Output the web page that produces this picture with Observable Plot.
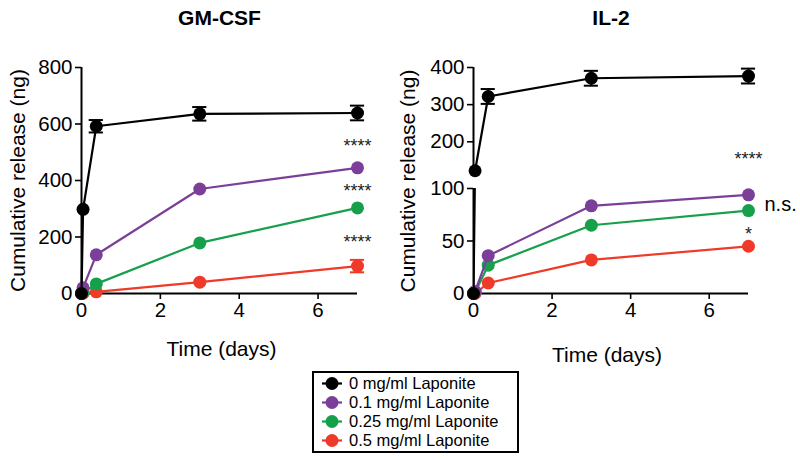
<!DOCTYPE html>
<html><head><meta charset="utf-8">
<script src="https://cdn.jsdelivr.net/npm/d3@7"></script>
<script src="https://cdn.jsdelivr.net/npm/@observablehq/plot@0.6"></script>
<style>
body{margin:0;background:#fff;font-family:"Liberation Sans",Arial,Helvetica,sans-serif;}
#wrap{position:relative;width:800px;height:460px;overflow:hidden;}
.panel{position:absolute;}
#legend{position:absolute;left:312px;top:371px;width:203px;border:2px solid #000;box-sizing:content-box;padding:1px 0 1px 0;}
#legend .row{display:flex;align-items:center;height:19px;}
#legend .row span{font-size:16.5px;line-height:19px;color:#000;margin-left:6px;white-space:nowrap;}
#legend .row svg{display:block;margin-left:7px;}
</style></head><body><div id="wrap"></div>
<script>
// ---- data ----
const days = [0, 0.04, 0.375, 3, 7];
const seriesNames = ["0 mg/ml Laponite", "0.1 mg/ml Laponite", "0.25 mg/ml Laponite", "0.5 mg/ml Laponite"];
const seriesColors = ["#000000", "#7b3f99", "#17a04c", "#ef3a29"];

const gmcsf0   = [0, 298, 592, 636, 639];
const gmcsf01  = [0, 20, 137, 370, 445];
const gmcsf025 = [0, 3, 34, 179, 303];
const gmcsf05  = [0, 1, 6, 40, 97];
const gmcsf0Err  = [0, 0, 22, 24, 26];
const gmcsf01Err = [0, 0, 0, 0, 0];
const gmcsf025Err = [0, 0, 0, 0, 0];
const gmcsf05Err = [0, 0, 0, 0, 22];

const il2_0   = [0, 122, 322, 371, 377];
const il2_01  = [0, 2, 36, 83.5, 94];
const il2_025 = [0, 1, 27, 65, 79];
const il2_05  = [0, 0, 10, 32, 45];
const il2_0Err  = [0, 0, 20, 20, 20];
const il2_01Err = [0, 0, 0, 0, 0];
const il2_025Err = [0, 0, 0, 0, 0];
const il2_05Err = [0, 0, 0, 0, 0];

const panelTitles = ["GM-CSF", "IL-2"];
const yLabel = "Cumulative release (ng)";
const xLabel = "Time (days)";
const xTicks = [0, 2, 4, 6];
const gmcsfTicks = [0, 200, 400, 600, 800];
const il2UpperTicks = [200, 300, 400];
const il2LowerTicks = [0, 50, 100];

// significance labels at day 7
const gmcsfNoteLabels = ["****", "****", "****"];
const gmcsfNoteValues = [538, 379, 198];
const il2UpperNoteLabels = ["****"];
const il2UpperNoteValues = [167];
const il2LowerNoteLabels = ["n.s.", "*"];
const il2LowerNoteValues = [85, 61.6];

// ---- helpers ----
const FONT = '"Liberation Sans", Arial, Helvetica, sans-serif';
function rows(valuesList, errList) {
  return valuesList.map((vals, i) => days.map((t, j) => ({t, v: vals[j], e: errList[i][j], s: seriesNames[i]})));
}
const gm = rows([gmcsf0, gmcsf01, gmcsf025, gmcsf05], [gmcsf0Err, gmcsf01Err, gmcsf025Err, gmcsf05Err]);
const il = rows([il2_0, il2_01, il2_025, il2_05], [il2_0Err, il2_01Err, il2_025Err, il2_05Err]);
const color = {domain: seriesNames, range: seriesColors};
const CAP = 0.18; // half cap width in days

function seriesMarks(series, {clipLines = false, dotFilter = () => true} = {}) {
  const marks = [];
  for (let i = series.length - 1; i >= 0; i--) {
    const d = series[i];
    const err = d.filter(r => r.e > 0 && dotFilter(r));
    marks.push(Plot.ruleX(err, {x: "t", y1: r => r.v - r.e, y2: r => r.v + r.e, stroke: "s", strokeWidth: 2}));
    marks.push(Plot.ruleY(err, {y: r => r.v + r.e, x1: r => r.t - CAP, x2: r => r.t + CAP, stroke: "s", strokeWidth: 2}));
    marks.push(Plot.ruleY(err, {y: r => r.v - r.e, x1: r => r.t - CAP, x2: r => r.t + CAP, stroke: "s", strokeWidth: 2}));
    marks.push(Plot.line(d, {x: "t", y: "v", stroke: "s", strokeWidth: 2.2, clip: clipLines}));
    marks.push(Plot.dot(d.filter(dotFilter), {x: "t", y: "v", fill: "s", r: 6.5}));
  }
  return marks;
}
function notes(labels, values, extra = {}) {
  return Plot.text(labels.map((l, i) => ({t: 7, v: values[i], l})), {x: "t", y: "v", text: "l", fontSize: 18, fill: "#222", ...extra});
}
const baseStyle = {fontFamily: FONT, fontSize: "20.5px", overflow: "visible", background: "transparent", color: "#000"};
const axisOpts = {tickSize: 6, tickPadding: 3, strokeWidth: 1.6, label: null, fontSize: 20.5};

const wrap = document.getElementById("wrap");
function place(el, left, top) {
  const d = document.createElement("div");
  d.className = "panel"; d.style.left = left + "px"; d.style.top = top + "px";
  d.appendChild(el); wrap.appendChild(d);
}

// ---- GM-CSF ----
const left = Plot.plot({
  width: 400, height: 370, marginLeft: 81, marginRight: 43, marginTop: 67, marginBottom: 77,
  style: baseStyle,
  x: {domain: [0, 7]}, y: {domain: [0, 800]}, color,
  marks: [
    Plot.axisY(gmcsfTicks, axisOpts),
    Plot.axisX(xTicks, axisOpts),
    Plot.ruleX([0], {strokeWidth: 2}),
    Plot.ruleY([0], {strokeWidth: 2}),
    ...seriesMarks(gm),
    notes(gmcsfNoteLabels, gmcsfNoteValues, {dy: 5}),
    Plot.text([panelTitles[0]], {text: d => d, frameAnchor: "top", lineAnchor: "middle", dy: -49, fontSize: 21, fontWeight: "bold"}),
    Plot.text([xLabel], {text: d => d, frameAnchor: "bottom", lineAnchor: "middle", dx: 2, dy: 56, fontSize: 21}),
    Plot.text([yLabel], {text: d => d, frameAnchor: "left", textAnchor: "middle", dx: -63, rotate: -90, fontSize: 21})
  ]
});
place(left, 0, 0);

// ---- IL-2 upper (broken axis, 120–400) ----
const upper = Plot.plot({
  width: 400, height: 180, marginLeft: 73, marginRight: 52, marginTop: 67, marginBottom: 9,
  style: baseStyle,
  x: {domain: [0, 7], axis: null}, y: {domain: [120, 400]}, color,
  marks: [
    Plot.axisY(il2UpperTicks, axisOpts),
    Plot.ruleX([0], {strokeWidth: 2}),
    ...seriesMarks([il[0]], {clipLines: true, dotFilter: r => r.v >= 120}),
    notes(il2UpperNoteLabels, il2UpperNoteValues, {dy: 5}),
    Plot.text([panelTitles[1]], {text: d => d, frameAnchor: "top", lineAnchor: "middle", dy: -49, fontSize: 21, fontWeight: "bold"})
  ]
});
place(upper, 400, 0);

// ---- IL-2 lower (0–100) ----
const lower = Plot.plot({
  width: 400, height: 190, marginLeft: 73, marginRight: 52, marginTop: 8, marginBottom: 77,
  style: baseStyle,
  x: {domain: [0, 7]}, y: {domain: [0, 100]}, color,
  marks: [
    Plot.axisY(il2LowerTicks, axisOpts),
    Plot.axisX(xTicks, axisOpts),
    Plot.ruleX([0], {strokeWidth: 2}),
    Plot.ruleY([0], {strokeWidth: 2}),
    ...seriesMarks(il, {clipLines: true, dotFilter: r => r.v <= 100}),
    notes([il2LowerNoteLabels[0]], [il2LowerNoteValues[0]], {textAnchor: "start", dx: 16, fontSize: 20, fill: "#000"}),
    notes([il2LowerNoteLabels[1]], [il2LowerNoteValues[1]], {dy: 5}),
    Plot.text([xLabel], {text: d => d, frameAnchor: "bottom", lineAnchor: "middle", dx: -4, dy: 62, fontSize: 21}),
    Plot.text([yLabel], {text: d => d, frameAnchor: "left", textAnchor: "middle", dx: -65, dy: -60, rotate: -90, fontSize: 21})
  ]
});
place(lower, 400, 180);

// ---- legend ----
const legend = document.createElement("div");
legend.id = "legend";
seriesNames.forEach((name, i) => {
  const row = document.createElement("div");
  row.className = "row";
  const ns = "http://www.w3.org/2000/svg";
  const svg = document.createElementNS(ns, "svg");
  svg.setAttribute("width", 22); svg.setAttribute("height", 17);
  const ln = document.createElementNS(ns, "line");
  ln.setAttribute("x1", 1); ln.setAttribute("x2", 21); ln.setAttribute("y1", 8.5); ln.setAttribute("y2", 8.5);
  ln.setAttribute("stroke", seriesColors[i]); ln.setAttribute("stroke-width", 2.2);
  const c = document.createElementNS(ns, "circle");
  c.setAttribute("cx", 11); c.setAttribute("cy", 8.5); c.setAttribute("r", 6.5); c.setAttribute("fill", seriesColors[i]);
  svg.appendChild(ln); svg.appendChild(c);
  const t = document.createElement("span"); t.textContent = name;
  row.appendChild(svg); row.appendChild(t);
  legend.appendChild(row);
});
wrap.appendChild(legend);
</script></body></html>
